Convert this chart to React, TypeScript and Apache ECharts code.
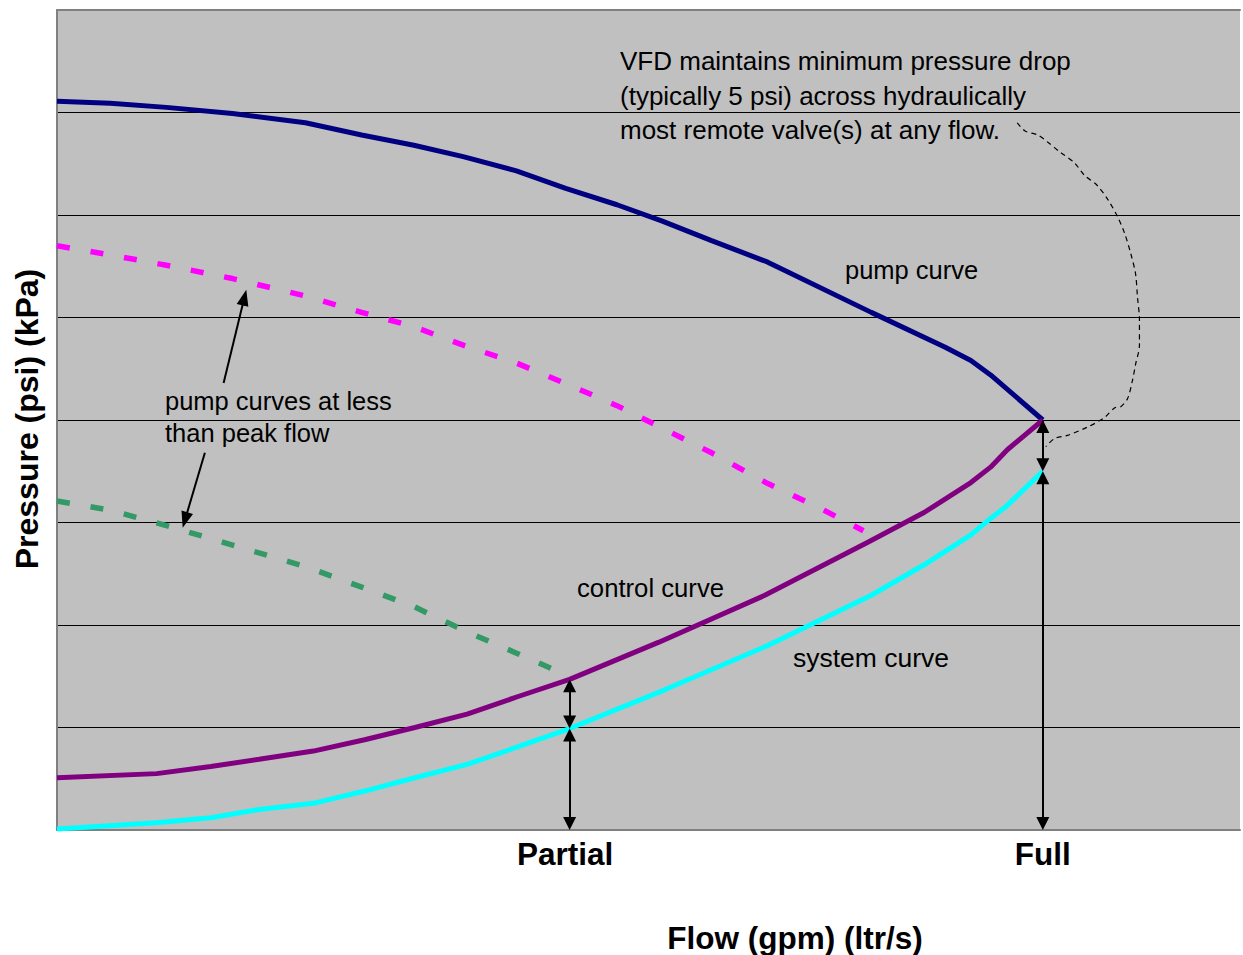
import React, { useEffect, useRef } from "react";
import * as echarts from "echarts";

// ---- data (flow in % of design flow, pressure in psi) ----
const flowPump = [0, 5.4, 11.1, 17.8, 25.2, 30.9, 36.2, 41.2, 46.6, 51.6, 56.8, 61.4, 66.4, 72.1, 82.6, 90.1, 92.7, 94.7, 100];
const pressurePump = [71.1, 70.9, 70.5, 69.9, 69.0, 67.8, 66.8, 65.7, 64.3, 62.6, 61.0, 59.4, 57.5, 55.4, 50.5, 47.1, 45.8, 44.4, 40.0];

const flowReducedA = [0, 5.4, 11.1, 17.8, 25.2, 30.9, 36.2, 41.2, 46.5, 51.5, 56.8, 61.4, 66.4, 72.1, 77.2, 81.8];
const pressureReducedA = [57.0, 56.1, 55.1, 53.8, 52.1, 50.5, 49.1, 47.3, 45.6, 43.6, 41.4, 39.2, 36.8, 33.8, 31.5, 29.2];

const flowReducedB = [0, 5.4, 11.1, 17.8, 25.2, 30.9, 36.2, 41.2, 46.5, 51.7];
const pressureReducedB = [32.1, 31.2, 29.7, 27.8, 25.7, 23.7, 21.8, 19.5, 17.3, 15.1];

const flowControl = [0, 10.1, 15.6, 20.5, 26.0, 31.2, 36.3, 41.6, 46.7, 52, 61.0, 71.8, 82.3, 88.0, 92.7, 94.7, 96.4, 100];
const pressureControl = [5.1, 5.5, 6.2, 6.9, 7.7, 8.8, 10.0, 11.3, 13.0, 14.7, 18.3, 22.9, 28.1, 31.0, 33.9, 35.4, 37.1, 40.0];

const flowSystem = [0, 10.1, 15.6, 20.5, 26.0, 31.2, 36.3, 41.6, 46.7, 52, 61.7, 72.1, 82.6, 88.0, 92.7, 94.7, 96.2, 100];
const pressureSystem = [0.1, 0.7, 1.2, 2.0, 2.6, 3.8, 5.1, 6.4, 8.1, 9.9, 13.7, 18.0, 22.9, 25.9, 28.8, 30.4, 31.5, 35.0];

// callout leader (dashed) from the VFD note to the full-flow point
const flowCallout = [97.4, 98.2, 99.5, 100.5, 101.8, 103.2, 104.2, 105.5, 106.6, 107.6, 108.3, 108.9, 109.4, 109.6, 109.8, 109.8, 109.4, 109.1, 108.6, 107.9, 107.3, 106.2, 104.5, 102.5, 101.2, 100.3];
const pressureCallout = [69.0, 68.2, 67.8, 67.1, 66.1, 65.1, 63.9, 62.9, 61.5, 59.8, 58.2, 56.3, 54.3, 52.0, 49.8, 47.3, 45.4, 43.9, 42.1, 41.3, 41.2, 40.2, 39.3, 38.5, 38.2, 37.4];

// operating points marked with double arrows
const markerFlow = [52, 100];
const markerControl = [14.7, 40];
const markerSystem = [9.9, 35];
const markerLabels = ["Partial", "Full"];

// pointer arrows from the "pump curves at less than peak flow" note
const noteArrowFrom = [[16.9, 43.6], [15.0, 36.8]];
const noteArrowTo = [[19.2, 52.7], [12.75, 29.5]];

const X_MAX = 120;
const Y_MAX = 80;

const FONT = "'Liberation Sans', Arial, Helvetica, sans-serif";

export default function App() {
  const ref = useRef<HTMLDivElement>(null);

  useEffect(() => {
    const el = ref.current!;
    const chart = echarts.init(el, null, { renderer: "svg" });

    const W = 1243, H = 955;
    const gridLeft = 57, gridTop = 10, gridRight = 0, gridBottom = 125;
    const xPx = (W - gridLeft - gridRight) / X_MAX;
    const yPx = (H - gridTop - gridBottom) / Y_MAX;

    const zip = (xs: number[], ys: number[]) => xs.map((x, i) => [x, ys[i]]);

    // double-headed arrows (triangles centred at ends; inset so tips touch curves)
    const tri = 13;
    const inset = tri / 2 / yPx;
    const dblArrows: any[] = [];
    markerFlow.forEach((f, i) => {
      const c = markerControl[i];
      const s = markerSystem[i];
      dblArrows.push([{ coord: [f, c - inset] }, { coord: [f, s + inset] }]);
      dblArrows.push([{ coord: [f, s - inset] }, { coord: [f, inset] }]);
    });

    const headLen = 16;
    const noteArrows: any[] = noteArrowFrom.map((from, i) => {
      const to = noteArrowTo[i];
      const dx = (to[0] - from[0]) * xPx;
      const dy = (to[1] - from[1]) * yPx;
      const len = Math.hypot(dx, dy);
      const k = headLen / 2 / len;
      return [
        { coord: from },
        { coord: [to[0] - (to[0] - from[0]) * k, to[1] - (to[1] - from[1]) * k] },
      ];
    });

    const splitColors: string[] = [];
    for (let v = 0; v <= Y_MAX; v += 10) {
      splitColors.push(v === 0 || v === Y_MAX ? "rgba(0,0,0,0)" : "#000000");
    }

    const textStyle = (text: string, size: number, weight: string, align = "left") => ({
      text,
      fill: "#000",
      fontSize: size,
      fontFamily: FONT,
      fontWeight: weight,
      align,
      verticalAlign: "middle",
    });

    const option: any = {
      animation: false,
      backgroundColor: "#ffffff",
      grid: {
        left: gridLeft,
        top: gridTop,
        right: gridRight,
        bottom: gridBottom,
        show: true,
        backgroundColor: "#C0C0C0",
        borderWidth: 0,
      },
      xAxis: [
        {
          type: "value",
          min: 0,
          max: X_MAX,
          interval: 4,
          axisLine: { show: true, lineStyle: { color: "#808080", width: 2 } },
          axisTick: { show: false },
          splitLine: { show: false },
          axisLabel: {
            show: true,
            interval: 0,
            margin: 8,
            color: "#000",
            fontSize: 31.5,
            fontWeight: "bold",
            fontFamily: FONT,
            formatter: (v: number) => {
              const idx = markerFlow.indexOf(v);
              if (idx < 0) return "";
              return idx === 0 ? "{p|" + markerLabels[idx] + "}" : markerLabels[idx];
            },
            rich: {
              p: {
                fontSize: 31.5,
                fontWeight: "bold",
                fontFamily: FONT,
                color: "#000",
                padding: [0, 9, 0, 0],
              },
            },
          },
        },
        {
          type: "value",
          position: "top",
          min: 0,
          max: X_MAX,
          axisLine: { show: true, lineStyle: { color: "#808080", width: 2 } },
          axisTick: { show: false },
          axisLabel: { show: false },
          splitLine: { show: false },
        },
      ],
      yAxis: {
        type: "value",
        min: 0,
        max: Y_MAX,
        interval: 10,
        axisLine: { show: true, lineStyle: { color: "#808080", width: 2 } },
        axisTick: { show: false },
        axisLabel: { show: false },
        splitLine: { show: true, lineStyle: { color: splitColors, width: 1 } },
      },
      series: [
        {
          name: "pump curve",
          type: "line",
          data: zip(flowPump, pressurePump),
          symbol: "none",
          lineStyle: { color: "#000080", width: 5 },
          z: 2,
        },
        {
          name: "reduced A",
          type: "line",
          data: zip(flowReducedA, pressureReducedA),
          symbol: "none",
          lineStyle: { color: "#FF00FF", width: 5.5, type: [13, 21], cap: "butt" },
          z: 2,
        },
        {
          name: "reduced B",
          type: "line",
          data: zip(flowReducedB, pressureReducedB),
          symbol: "none",
          lineStyle: { color: "#339966", width: 5.5, type: [13, 21], cap: "butt" },
          z: 2,
        },
        {
          name: "control curve",
          type: "line",
          data: zip(flowControl, pressureControl),
          symbol: "none",
          lineStyle: { color: "#800080", width: 5 },
          z: 3,
        },
        {
          name: "system curve",
          type: "line",
          data: zip(flowSystem, pressureSystem),
          symbol: "none",
          lineStyle: { color: "#00FFFF", width: 5 },
          z: 3,
          markLine: {
            silent: true,
            animation: false,
            symbol: ["triangle", "triangle"],
            symbolSize: [tri, tri],
            label: { show: false },
            lineStyle: { color: "#000", width: 2, type: "solid" },
            data: dblArrows,
          },
        },
        {
          name: "callout",
          type: "line",
          data: zip(flowCallout, pressureCallout),
          symbol: "none",
          smooth: 0.3,
          clip: false,
          lineStyle: { color: "#000", width: 1.2, type: [5, 4] },
          z: 4,
          markLine: {
            silent: true,
            animation: false,
            symbol: ["none", "triangle"],
            symbolSize: [12, headLen],
            label: { show: false },
            lineStyle: { color: "#000", width: 2, type: "solid" },
            data: noteArrows,
          },
        },
      ],
      graphic: [
        { type: "text", x: 620, y: 61, style: textStyle("VFD maintains minimum pressure drop", 26, "normal") },
        { type: "text", x: 620, y: 96, style: textStyle("(typically 5 psi) across hydraulically", 26, "normal") },
        { type: "text", x: 620, y: 130, style: textStyle("most remote valve(s) at any flow.", 26, "normal") },
        { type: "text", x: 845, y: 270, style: textStyle("pump curve", 25.5, "normal") },
        { type: "text", x: 165, y: 401, style: textStyle("pump curves at less", 25.5, "normal") },
        { type: "text", x: 165, y: 433, style: textStyle("than peak flow", 25.5, "normal") },
        { type: "text", x: 577, y: 588, style: textStyle("control curve", 25.7, "normal") },
        { type: "text", x: 793, y: 658, style: textStyle("system curve", 26.5, "normal") },
        { type: "text", x: 795, y: 938, style: textStyle("Flow (gpm) (ltr/s)", 31.5, "bold", "center") },
        {
          type: "text",
          x: 27,
          y: 419,
          rotation: Math.PI / 2,
          style: textStyle("Pressure (psi) (kPa)", 32, "bold", "center"),
        },
      ],
    };

    chart.setOption(option);
    return () => chart.dispose();
  }, []);

  return (
    <div
      ref={ref}
      style={{ position: "absolute", left: 0, top: 0, width: 1243, height: 955 }}
    />
  );
}
